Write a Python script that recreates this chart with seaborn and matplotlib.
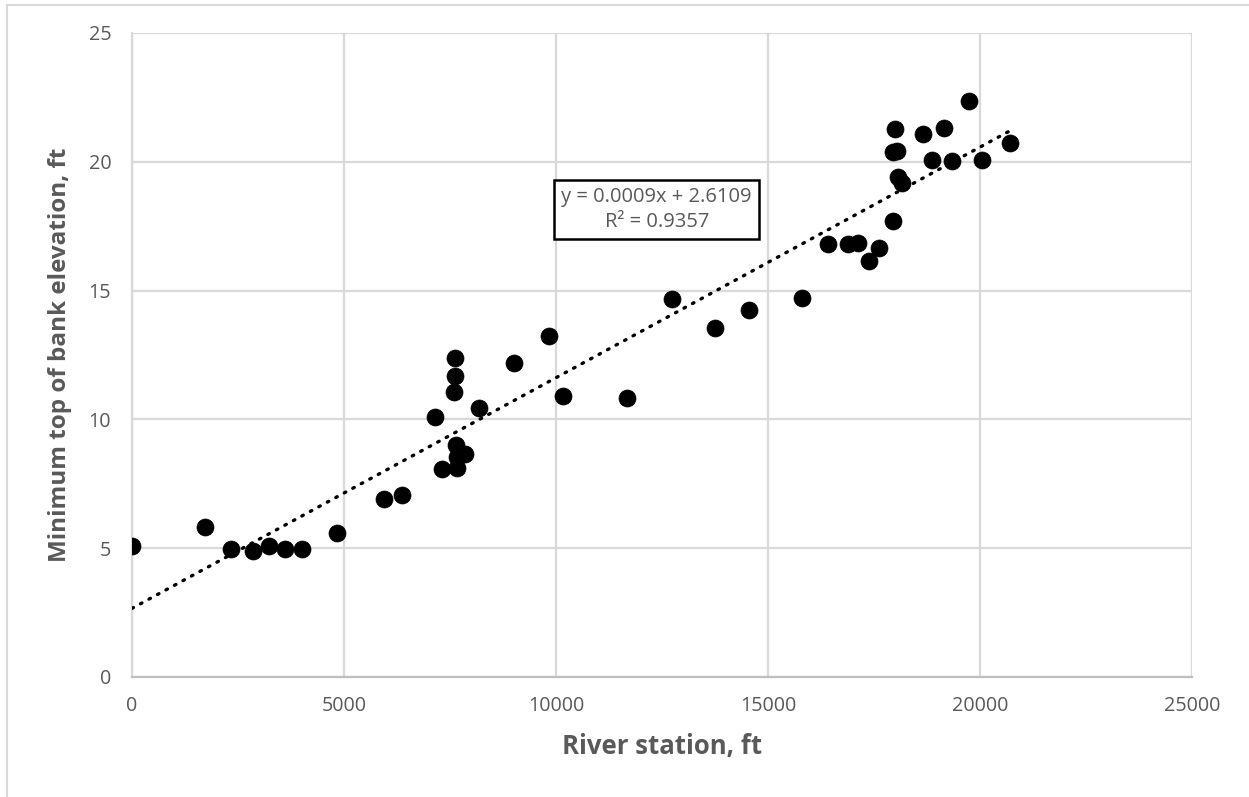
import numpy as np
import pandas as pd
import matplotlib
matplotlib.use("Agg")
import matplotlib.pyplot as plt
import seaborn as sns
from matplotlib.lines import Line2D

# ---- data ----
station_ft = [0, 1722, 2335, 2846, 3231, 3608, 4017, 4827, 5951, 6360,
              7139, 7319, 7594, 7618, 7618, 7642, 7673, 7673, 7854, 8184,
              9009, 9842, 10157, 11682, 12736, 13750, 14552, 15802, 16422, 16894,
              17115, 17382, 17618, 17940, 17995, 17950, 18050, 18059, 18153, 18648,
              18868, 19158, 19332, 19748, 20047, 20700]
elevation_ft = [5.09, 5.82, 4.98, 4.89, 5.09, 4.98, 4.98, 5.58, 6.90, 7.05,
                10.08, 8.07, 11.06, 11.70, 12.37, 9.01, 8.55, 8.11, 8.66, 10.43,
                12.18, 13.25, 10.91, 10.82, 14.67, 13.55, 14.25, 14.70, 16.80, 16.80,
                16.84, 16.15, 16.64, 17.71, 21.27, 20.38, 20.42, 19.42, 19.16, 21.08,
                20.07, 21.33, 20.03, 22.36, 20.07, 20.72]
x_ticks = [0, 5000, 10000, 15000, 20000, 25000]
y_ticks = [0, 5, 10, 15, 20, 25]
x_label = "River station, ft"
y_label = "Minimum top of bank elevation, ft"
trend_text = "y = 0.0009x + 2.6109\nR\u00b2 = 0.9357"

df = pd.DataFrame({"station": station_ft, "elev": elevation_ft})

sns.set_theme(style="white")
plt.rcParams["font.family"] = ["Open Sans", "DejaVu Sans"]

W, H = 1249, 797
fig = plt.figure(figsize=(W / 100, H / 100), dpi=100)
ax = fig.add_axes([132 / W, 1 - 677 / H, (1192 - 132) / W, (677 - 33) / H])

text_gray = "#595959"
grid_gray = "#d9d9d9"

# trendline
sns.regplot(data=df, x="station", y="elev", ax=ax, scatter=False, ci=None,
            truncate=True,
            line_kws=dict(color="black", lw=2.4, linestyle=(0, (0.5, 2.4)),
                          dash_capstyle="round", zorder=3))
# points
sns.scatterplot(data=df, x="station", y="elev", ax=ax, color="black",
                s=150, edgecolor="black", linewidth=0.5, zorder=4)

ax.set_xlim(0, 25000)
ax.set_ylim(0, 25)
ax.set_xticks(x_ticks)
ax.set_yticks(y_ticks)
ax.set_xticklabels([str(v) for v in x_ticks])
ax.set_yticklabels([str(v) for v in y_ticks])
ax.grid(True, color=grid_gray, lw=1.6)
ax.set_axisbelow(True)
for side in ["top", "right"]:
    ax.spines[side].set_visible(False)
ax.spines["left"].set_color(grid_gray)
ax.spines["left"].set_linewidth(1.6)
ax.spines["bottom"].set_color("#bfbfbf")
ax.spines["bottom"].set_linewidth(1.6)
ax.tick_params(axis="both", length=0, labelsize=14.2, colors=text_gray)
ax.tick_params(axis="x", pad=14)
ax.tick_params(axis="y", pad=15)

ax.set_xlabel(x_label, fontsize=18.5, fontweight="bold", color=text_gray, labelpad=12)
ax.set_ylabel(y_label, fontsize=17.5, fontweight="bold", color=text_gray, labelpad=12)

ax.text(0.495, 0.726, trend_text, transform=ax.transAxes, ha="center", va="center",
        fontsize=14.5, color=text_gray, linespacing=1.35,
        bbox=dict(boxstyle="square,pad=0.35", facecolor="white", edgecolor="black", lw=1.8),
        zorder=5)

# outer chart-area border (top and left visible)
fig.add_artist(Line2D([7 / W, 1.0], [1 - 5 / H, 1 - 5 / H], transform=fig.transFigure,
                      color="#d9d9d9", lw=1.5))
fig.add_artist(Line2D([7 / W, 7 / W], [0.0, 1 - 5 / H], transform=fig.transFigure,
                      color="#d9d9d9", lw=1.5))

fig.savefig("out.png", dpi=100, facecolor="white")
